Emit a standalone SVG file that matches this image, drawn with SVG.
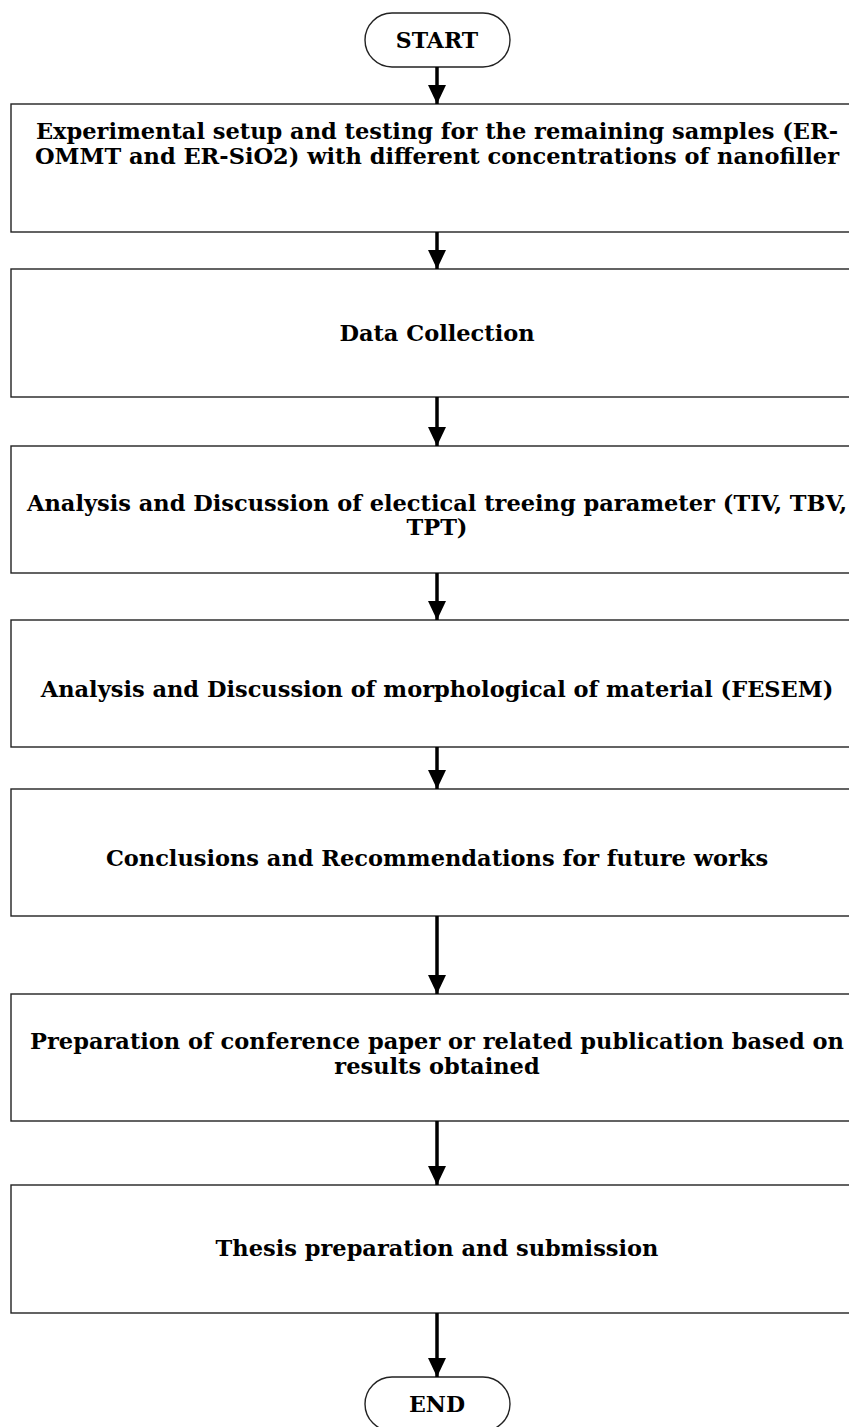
<svg xmlns="http://www.w3.org/2000/svg" width="849" height="1427" viewBox="0 0 849 1427">
<style>
.box{fill:#fff;stroke:#222;stroke-width:1.4}
.t{font-family:"DejaVu Serif","Liberation Serif",serif;font-weight:bold;font-size:22.5px;fill:#000;text-anchor:middle}
.term{font-family:"DejaVu Serif","Liberation Serif",serif;font-weight:bold;font-size:22px;fill:#000;text-anchor:middle}
.c{stroke:#000;stroke-width:3.5;fill:none}
</style>
<defs>
<marker id="ah" viewBox="0 0 19 18" refX="19" refY="9" markerWidth="19" markerHeight="18" markerUnits="userSpaceOnUse" orient="auto">
<path d="M0,0 L19,9 L0,18 Z" fill="#000"/>
</marker>
</defs>
<rect width="849" height="1427" fill="#fff"/>
<g id="start"><rect x="365" y="13" width="145" height="54" rx="27" ry="27" class="box"/><text x="437" y="48" class="term">START</text></g>
<g id="n1"><rect x="11" y="104" width="852" height="128" class="box"/><text x="437" y="139" class="t">Experimental setup and testing for the remaining samples (ER-</text><text x="437" y="164" class="t">OMMT and ER-SiO2) with different concentrations of nanofiller</text></g>
<g id="n2"><rect x="11" y="269" width="852" height="128" class="box"/><text x="437" y="341" class="t">Data Collection</text></g>
<g id="n3"><rect x="11" y="446" width="852" height="127" class="box"/><text x="437" y="511" class="t">Analysis and Discussion of electical treeing parameter (TIV, TBV,</text><text x="437" y="535" class="t">TPT)</text></g>
<g id="n4"><rect x="11" y="620" width="852" height="127" class="box"/><text x="437" y="697" class="t">Analysis and Discussion of morphological of material (FESEM)</text></g>
<g id="n5"><rect x="11" y="789" width="852" height="127" class="box"/><text x="437" y="866" class="t">Conclusions and Recommendations for future works</text></g>
<g id="n6"><rect x="11" y="994" width="852" height="127" class="box"/><text x="437" y="1049" class="t">Preparation of conference paper or related publication based on</text><text x="437" y="1074" class="t">results obtained</text></g>
<g id="n7"><rect x="11" y="1185" width="852" height="128" class="box"/><text x="437" y="1256" class="t">Thesis preparation and submission</text></g>
<g id="end"><rect x="365" y="1377" width="145" height="54" rx="27" ry="27" class="box"/><text x="437" y="1412" class="term">END</text></g>
<g id="connectors">
<line x1="437" y1="67" x2="437" y2="104" class="c" marker-end="url(#ah)"/>
<line x1="437" y1="232" x2="437" y2="269" class="c" marker-end="url(#ah)"/>
<line x1="437" y1="397" x2="437" y2="446" class="c" marker-end="url(#ah)"/>
<line x1="437" y1="573" x2="437" y2="620" class="c" marker-end="url(#ah)"/>
<line x1="437" y1="747" x2="437" y2="789" class="c" marker-end="url(#ah)"/>
<line x1="437" y1="916" x2="437" y2="994" class="c" marker-end="url(#ah)"/>
<line x1="437" y1="1121" x2="437" y2="1185" class="c" marker-end="url(#ah)"/>
<line x1="437" y1="1313" x2="437" y2="1377" class="c" marker-end="url(#ah)"/>
</g>
</svg>
